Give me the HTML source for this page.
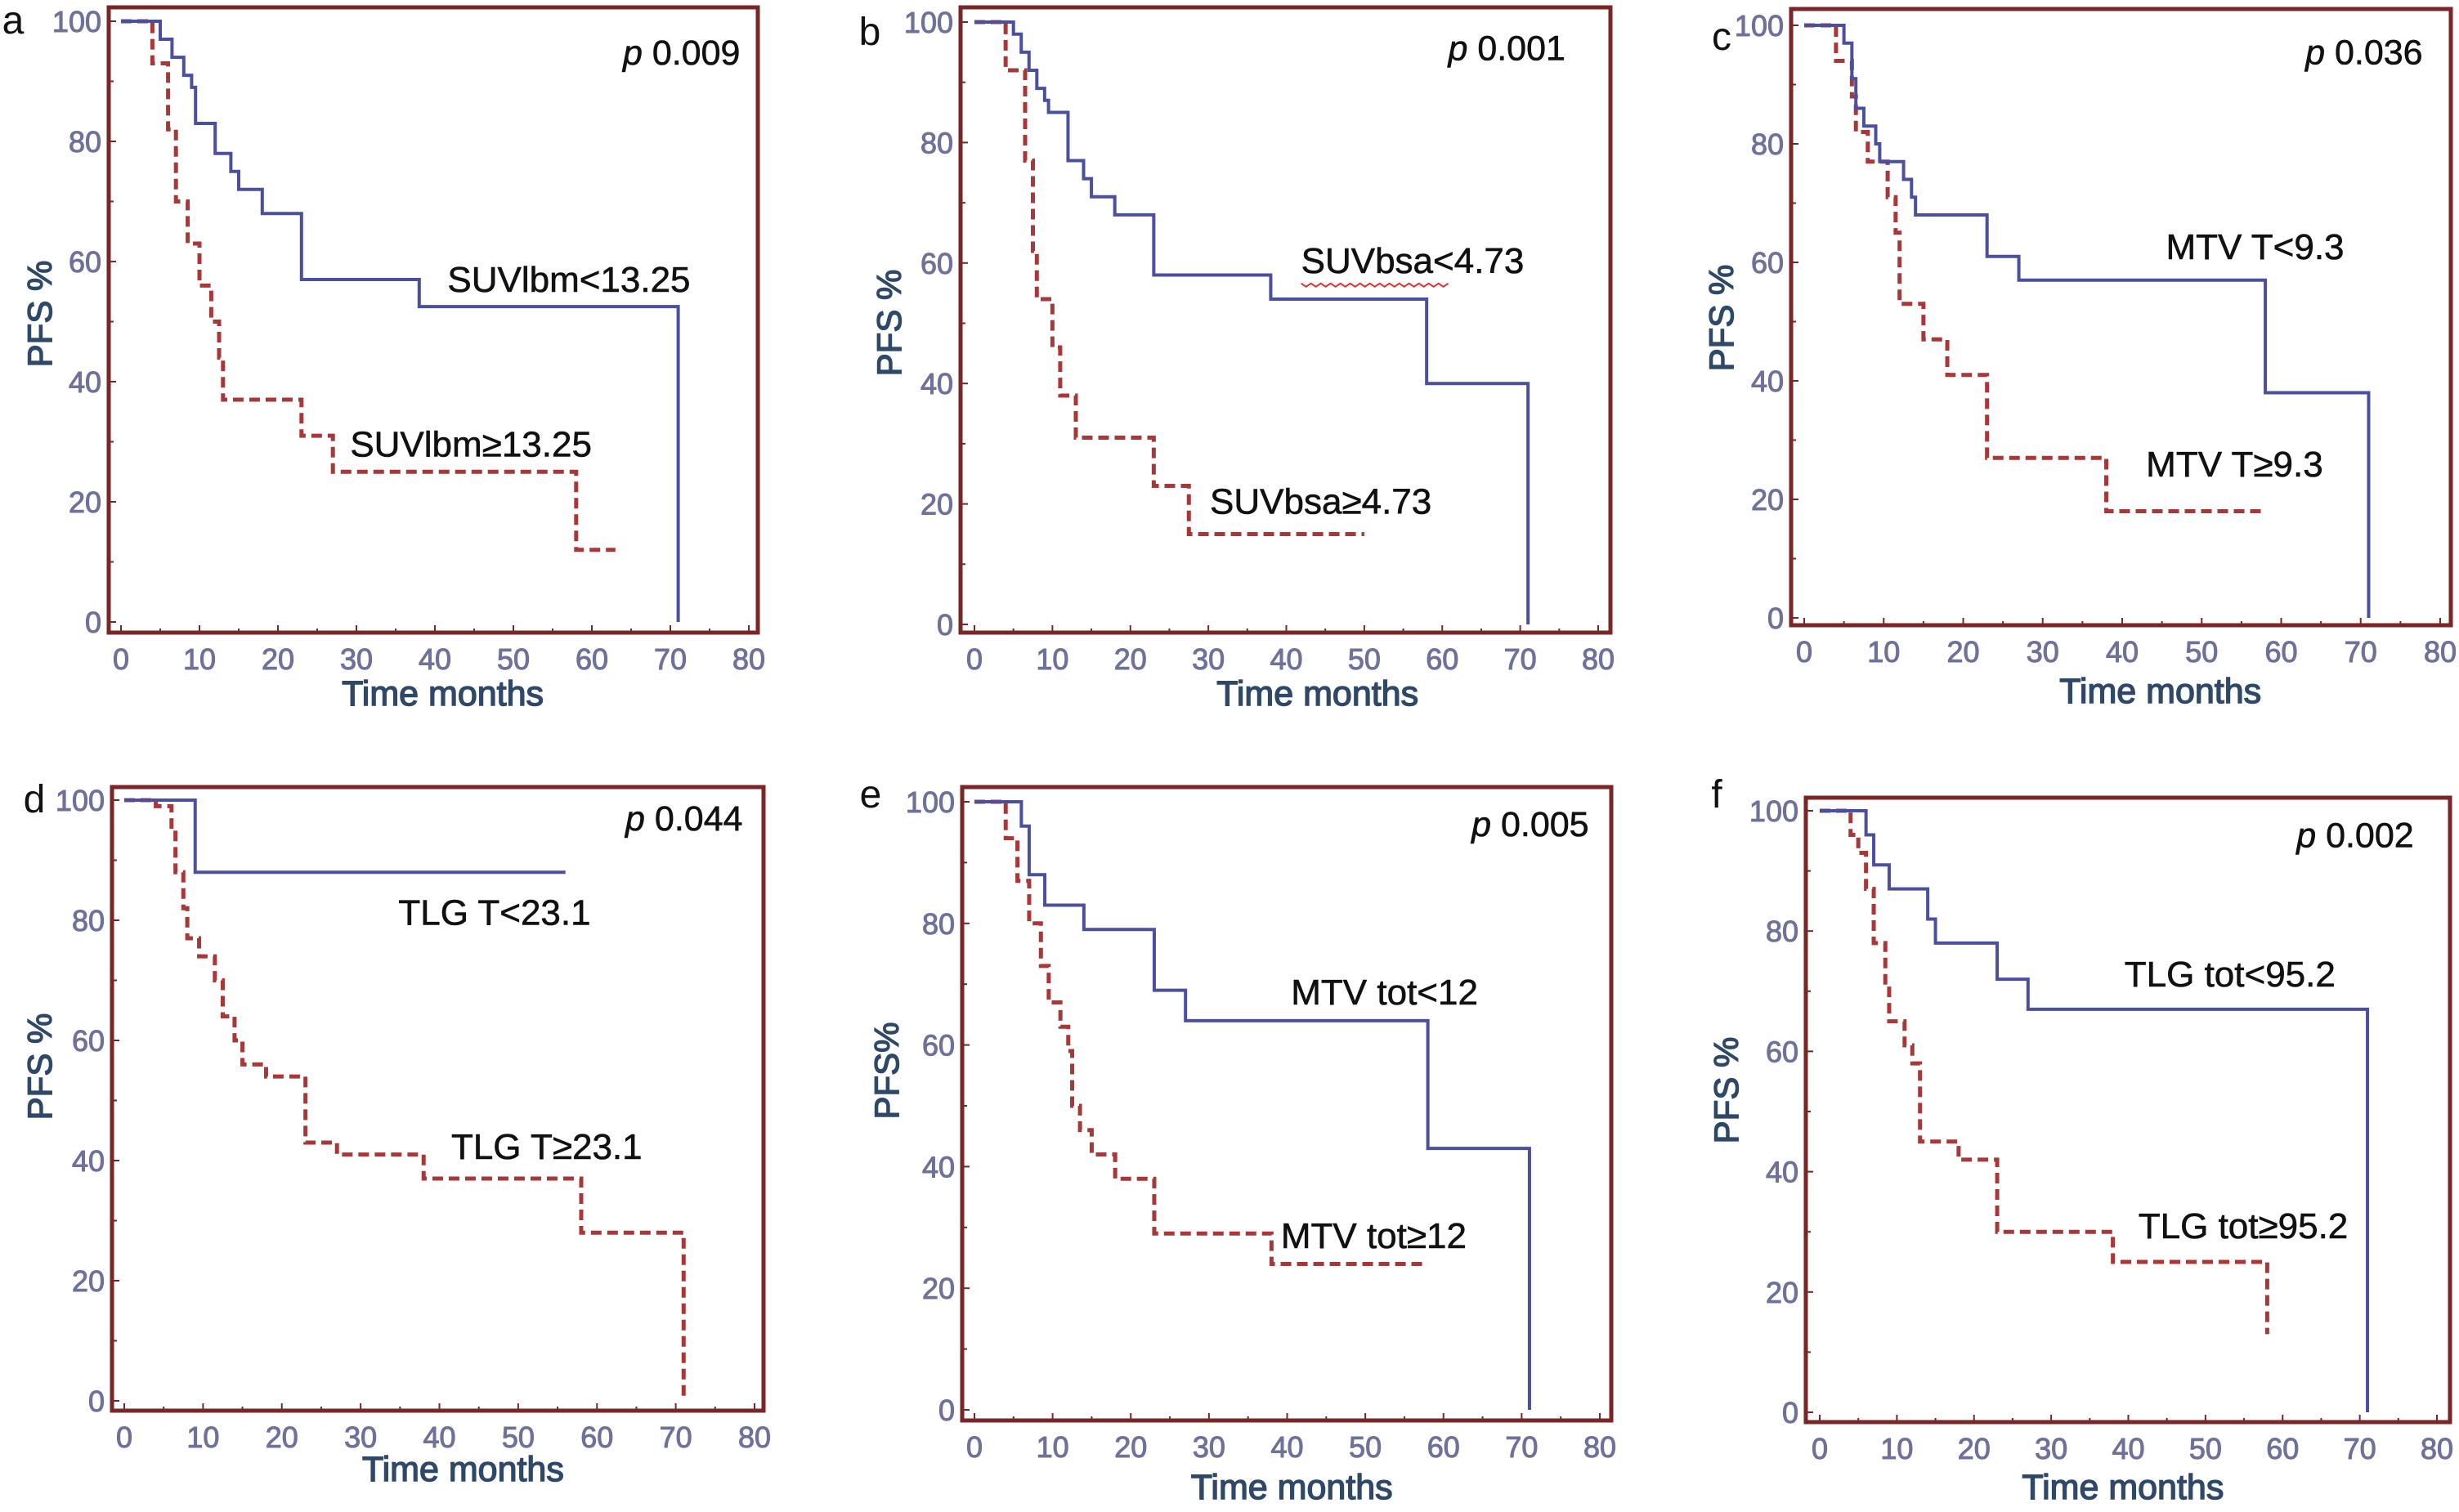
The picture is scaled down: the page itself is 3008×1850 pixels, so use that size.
<!DOCTYPE html>
<html><head><meta charset="utf-8"><style>
html,body{margin:0;padding:0;background:#fff;}
svg{display:block;}
text{font-family:"Liberation Sans",sans-serif;}
</style></head><body>
<svg id="fig" width="3008" height="1850" viewBox="0 0 3008 1850" xmlns="http://www.w3.org/2000/svg"></svg>
<script>
// ---- data (months / PFS %) ----
const xTicks=[0,10,20,30,40,50,60,70,80];
const yTicks=[0,20,40,60,80,100];
const panelLetters=["a","b","c","d","e","f"];
const pValues=["0.009","0.001","0.036","0.044","0.005","0.002"];
const lowLabels=["SUVlbm<13.25","SUVbsa<4.73","MTV T<9.3","TLG T<23.1","MTV tot<12","TLG tot<95.2"];
const highLabels=["SUVlbm≥13.25","SUVbsa≥4.73","MTV T≥9.3","TLG T≥23.1","MTV tot≥12","TLG tot≥95.2"];
const yTitles=["PFS %","PFS %","PFS %","PFS %","PFS%","PFS %"];

const aBlueT=[5,6.5,8,9,9.5,12,14,15,18,23,38,71];
const aBlueS=[97,94,91,89,83,78,75,72,68,57,52.5,0];
const aBlueEnd=71;
const aRedT=[4,6,7,8.5,10,11.5,12.5,13,23,27,58];
const aRedS=[93,82,70,63,56,50,44,37,31,25,12];
const aRedEnd=63;

const bBlueT=[5,6,7,8,9,9.5,12,14,15,18,23,38,58,71];
const bBlueS=[98,95,92,89,87,85,77,74,71,68,58,54,40,0];
const bBlueEnd=71;
const bRedT=[4,6.5,7.5,8,10,11,13,23,27.5];
const bRedS=[92,77,62,54,46,38,31,23,15];
const bRedEnd=50;

const cBlueT=[5,6,6.5,7.5,9,9.5,12.5,13.5,14,23,27,58,71];
const cBlueS=[97,91,86,83,80,77,74,71,68,61,57,38,0];
const cBlueEnd=71;
const cRedT=[4,6,6.5,8,10.5,11.5,12,15,18,23,38];
const cRedS=[94,88,82,77,71,65,53,47,41,27,18];
const cRedEnd=58;

const dBlueT=[9];
const dBlueS=[88];
const dBlueEnd=56;
const dRedT=[4,6,6.5,7.5,8,9.5,11.5,12.5,14,15,18,23,27,38,58,71];
const dRedS=[99,95,88,82,77,74,70,64,60,56,54,43,41,37,28,0];
const dRedEnd=71;

const eBlueT=[6,7,9,14,23,27,58,71];
const eBlueS=[96,88,83,79,69,64,43,0];
const eBlueEnd=71;
const eRedT=[4,5.5,7,8.5,9.5,11,12,12.5,13.5,15,18,23,38];
const eRedS=[94,87,80,73,67,63,59,50,46,42,38,29,24];
const eRedEnd=58;

const fBlueT=[6,7,9,14,15,23,27,71];
const fBlueS=[96,91,87,82,78,72,67,0];
const fBlueEnd=71;
const fRedT=[4,5,6,7,8.5,9,11,12,13,18,23,38,58];
const fRedS=[96,93,87,78,71,65,61,58,45,42,30,25,13];
const fRedEnd=58;

const blueT=[aBlueT,bBlueT,cBlueT,dBlueT,eBlueT,fBlueT];
const blueS=[aBlueS,bBlueS,cBlueS,dBlueS,eBlueS,fBlueS];
const blueEnd=[aBlueEnd,bBlueEnd,cBlueEnd,dBlueEnd,eBlueEnd,fBlueEnd];
const redT=[aRedT,bRedT,cRedT,dRedT,eRedT,fRedT];
const redS=[aRedS,bRedS,cRedS,dRedS,eRedS,fRedS];
const redEnd=[aRedEnd,bRedEnd,cRedEnd,dRedEnd,eRedEnd,fRedEnd];

// ---- layout (pixels) ----
const layout=[
 {L:133,T:9,R:927,B:774,x0:148,x80:916,y0:761,y100:26,lx:16,ly:26,tx:48,ty:384,
  p:[78.9,94.8],lo:[41.6,57],hi:[29.2,29.6],xt:[41,847]},
 {L:1175,T:9,R:1970,B:774,x0:1192,x80:1955,y0:764,y100:27,lx:1064,ly:40,tx:1087,ty:395,
  p:[75.8,95.7],lo:[41.9,60.4],hi:[30.2,20.4],xt:[44,847]},
 {L:2191,T:11,R:2998,B:765,x0:2207,x80:2985,y0:756,y100:31,lx:2106,ly:46,tx:2105,ty:389,
  p:[77.8,95.5],lo:[45.5,62.6],hi:[43,25.9],xt:[44.8,844]},
 {L:137,T:963,R:934,B:1726,x0:152,x80:923,y0:1714,y100:979,lx:42,ly:979,tx:48,ty:1305,
  p:[78.5,97],lo:[34.8,81.3],hi:[41.5,42.3],xt:[43,1796]},
 {L:1177,T:963,R:1971,B:1738,x0:1192,x80:1957,y0:1725,y100:981,lx:1065,ly:973,tx:1084,ty:1310,
  p:[78.6,96.4],lo:[40.5,68.7],hi:[39.2,28.6],xt:[40.6,1818]},
 {L:2209,T:976,R:2997,B:1740,x0:2226,x80:2981,y0:1728,y100:992,lx:2100,ly:973,tx:2111,ty:1334,
  p:[77,96],lo:[39.5,72.8],hi:[41.3,31],xt:[39.3,1818]}
];
const NS="http://www.w3.org/2000/svg";
const svg=document.getElementById('fig');
function mk(tag,attrs,parent){const e=document.createElementNS(NS,tag);for(const k in attrs)e.setAttribute(k,attrs[k]);(parent||svg).appendChild(e);return e;}

layout.forEach((g,i)=>{
  const X=t=>g.x0+(g.x80-g.x0)*t/80;
  const Y=v=>g.y0+(g.y100-g.y0)*v/100;
  const grp=mk('g',{});
  
  

  const fr=mk('rect',{x:g.L,y:g.T,width:g.R-g.L,height:g.B-g.T,fill:'none',stroke:'#7a2626','stroke-width':5},grp);
  
  

  for(let t=0;t<=80;t+=5){mk('line',{x1:X(t),x2:X(t),y1:g.B,y2:g.B-(t%10===0?9:5),stroke:'#7a2626','stroke-width':2},grp);}
  for(let v=0;v<=100;v+=10){mk('line',{x1:g.L,x2:g.L+(v%20===0?9:6),y1:Y(v),y2:Y(v),stroke:'#7a2626','stroke-width':2},grp);}

  xTicks.forEach(t=>{
    const tl=mk('text',{x:X(t),y:g.B+45,'text-anchor':'middle','font-size':36,fill:'#6e7199',stroke:'#6e7199','stroke-width':1},grp);
    tl.textContent=t;
    
    
  });
  yTicks.forEach(v=>{
    const tl=mk('text',{x:g.L-9,y:Y(v)+13,'text-anchor':'end','font-size':36,fill:'#6e7199',stroke:'#6e7199','stroke-width':1},grp);
    tl.textContent=v;
    
    
  });

  const xt=mk('text',{x:X(g.xt[0]),y:g.xt[1]+16,'text-anchor':'middle','font-size':43,fill:'#2f4868',stroke:'#2f4868','stroke-width':1.4},grp);
  xt.textContent='Time months';
  
  
  const yt=mk('text',{x:0,y:0,'text-anchor':'middle','font-size':42,fill:'#2f4868',stroke:'#2f4868','stroke-width':1.4,transform:'translate('+(g.tx+15)+','+g.ty+') rotate(-90)'},grp);
  yt.textContent=yTitles[i];
  
  

  const pl=mk('text',{x:g.lx,y:g.ly+15,'text-anchor':'middle','font-size':48,fill:'#111'},grp);
  pl.textContent=panelLetters[i];
  
  

  function stepPath(T,S,end){
    let d='M'+X(0)+','+Y(100);
    for(let k=0;k<T.length;k++){d+=' H'+X(T[k])+' V'+Y(S[k]);}
    d+=' H'+X(end);
    return d;
  }
  const rp=mk('path',{d:stepPath(redT[i],redS[i],redEnd[i]),fill:'none',stroke:'#a83838','stroke-width':5,'stroke-dasharray':'13 7'},grp);
  
  
  const bp=mk('path',{d:stepPath(blueT[i],blueS[i],blueEnd[i]),fill:'none',stroke:'#4a4f9e','stroke-width':4},grp);
  
  

  const pt=mk('text',{x:X(g.p[0]),y:Y(g.p[1])+15,'text-anchor':'end','font-size':43,fill:'#111',stroke:'#111','stroke-width':0.6},grp);
  const pi=mk('tspan',{'font-style':'italic'},pt);pi.textContent='p';
  const pv=mk('tspan',{},pt);pv.textContent=' '+pValues[i];
  
  

  const lo=mk('text',{x:X(g.lo[0]),y:Y(g.lo[1])+15,'font-size':44,fill:'#111',stroke:'#111','stroke-width':0.6},grp);
  lo.textContent=lowLabels[i];
  
  
  const hi=mk('text',{x:X(g.hi[0]),y:Y(g.hi[1])+15,'font-size':44,fill:'#111',stroke:'#111','stroke-width':0.6},grp);
  hi.textContent=highLabels[i];
  
  

  if(i===1){
    let x=X(g.lo[0]),y=Y(g.lo[1])+28,d='M'+x+','+y;
    for(let k=0;k<30;k++){x+=6;d+=' L'+x+','+(y+(k%2===0?4:0));}
    const sq=mk('path',{d:d,fill:'none',stroke:'#e03030','stroke-width':2},grp);
    
    
  }
});
</script>
</body></html>
